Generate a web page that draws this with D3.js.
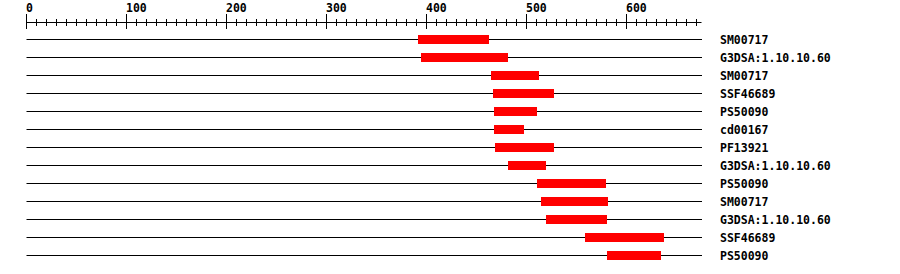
<!DOCTYPE html>
<html>
<head>
<meta charset="utf-8">
<script src="https://cdn.jsdelivr.net/npm/d3@7"></script>
<style>
  body { margin: 0; background: #fff; }
  svg { display: block; }
  text { font-family: "DejaVu Sans Mono", monospace; font-weight: bold; font-size: 11.5px; fill: #000; }
</style>
</head>
<body>
<div id="chart"></div>
<script>
// domain hits, top to bottom
const labels = ["SM00717", "G3DSA:1.10.10.60", "SM00717", "SSF46689", "PS50090", "cd00167",
  "PF13921", "G3DSA:1.10.10.60", "PS50090", "SM00717", "G3DSA:1.10.10.60", "SSF46689", "PS50090"];
const starts = [392, 395, 465, 467, 468, 468, 469, 482, 511, 515, 520, 559, 581];
const ends   = [463, 482, 513, 528, 511, 498, 528, 520, 580, 582, 581, 638, 635];
const seqLength = 675;
const majorTicks = [0, 100, 200, 300, 400, 500, 600];

function drawChart() {
  const width = 900, height = 274;
  const svg = d3.select("#chart").append("svg")
      .attr("width", width)
      .attr("height", height);

  const x = d3.scaleLinear().domain([0, seqLength]).range([26.5, 26.5 + seqLength]);
  const y = d3.scaleLinear().domain([0, 1]).range([39.5, 57.5]); // 18px per row
  const axisY = 22.5;

  // ruler
  svg.append("line")
      .attr("x1", x(0)).attr("x2", x(seqLength))
      .attr("y1", axisY).attr("y2", axisY)
      .attr("stroke", "#000");

  const minor = d3.range(10, seqLength + 1, 10).filter(v => v % 100 !== 0);
  svg.selectAll("line.minor")
      .data(minor)
      .enter().append("line")
      .attr("class", "minor")
      .attr("x1", d => x(d)).attr("x2", d => x(d))
      .attr("y1", 19).attr("y2", 26)
      .attr("stroke", "#000");

  svg.selectAll("line.major")
      .data(majorTicks)
      .enter().append("line")
      .attr("class", "major")
      .attr("x1", d => x(d)).attr("x2", d => x(d))
      .attr("y1", 14).attr("y2", 29)
      .attr("stroke", "#000");

  svg.selectAll("text.tick")
      .data(majorTicks)
      .enter().append("text")
      .attr("class", "tick")
      .attr("x", d => x(d) - 0.5)
      .attr("y", 11.5)
      .text(d => d);

  // rows
  const rows = svg.selectAll("g.row")
      .data(labels.map((name, i) => ({ name: name, start: starts[i], end: ends[i], i: i })))
      .enter().append("g")
      .attr("class", "row");

  rows.append("line")
      .attr("x1", x(0)).attr("x2", x(seqLength) + 0.5)
      .attr("y1", d => y(d.i)).attr("y2", d => y(d.i))
      .attr("stroke", "#000");

  rows.append("rect")
      .attr("x", d => x(d.start) - 0.5)
      .attr("y", d => y(d.i) - 4.5)
      .attr("width", d => x(d.end) - x(d.start))
      .attr("height", 9)
      .attr("fill", "#ff0000");

  rows.append("text")
      .attr("x", 720)
      .attr("y", d => y(d.i) + 4)
      .text(d => d.name);
}

drawChart();
</script>
</body>
</html>
